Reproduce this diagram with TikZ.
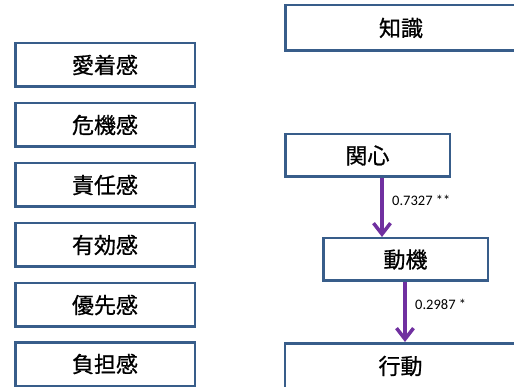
\documentclass[tikz,border=0pt]{standalone}
\usepackage{fontspec}
\setmainfont{Carlito}
\newfontfamily\jp[FakeBold=0.8]{Noto Sans CJK JP}
\usetikzlibrary{arrows.meta}
\definecolor{boxblue}{RGB}{56,93,138}
\definecolor{arrowpurple}{RGB}{112,48,160}
\begin{document}
\begin{tikzpicture}[x=1pt,y=-1pt,
  box/.style={draw=boxblue, line width=2.5pt, fill=white, inner sep=0pt,
    font=\jp\fontsize{22}{26}\selectfont},
  lbox/.style={box, minimum width=179.5pt, minimum height=43.5pt},
  arr/.style={draw=arrowpurple, line width=3.5pt,
    -{Straight Barb[length=11pt,width=17pt,line width=3.5pt]}},
  lab/.style={anchor=west, inner sep=0pt, font=\fontsize{14.5}{17}\selectfont}]
\useasboundingbox (0,0) rectangle (514,387);
\clip (0,0) rectangle (514,387);
\node[lbox] (aichaku) at (105,65) {愛着感};
\node[lbox] (kiki) at (105,125) {危機感};
\node[lbox] (sekinin) at (105,185) {責任感};
\node[lbox] (yuukou) at (105,245) {有効感};
\node[lbox] (yuusen) at (105,305) {優先感};
\node[lbox] (futan) at (105,364) {負担感};
\node[box, minimum width=231.5pt, minimum height=45.5pt] (chishiki) at (401,28) {知識};
\node[box, minimum width=164.5pt, minimum height=42.5pt] (kanshin) at (367.5,155.5) {関心};
\node[box, minimum width=164.5pt, minimum height=42.5pt] (douki) at (405.5,259.5) {動機};
\node[box, minimum width=231.5pt, minimum height=45.5pt] (koudou) at (400.5,366) {行動};
\coordinate (a1) at (382,0);
\coordinate (a2) at (405,0);
\draw[arr] (kanshin.south -| a1) -- (douki.north -| a1);
\draw[arr] (douki.south -| a2) -- (koudou.north -| a2);
\node[lab] (l1) at (392,200) {0.7327 **};
\node[lab] (l2) at (415,304) {0.2987 *};
\end{tikzpicture}
\end{document}
